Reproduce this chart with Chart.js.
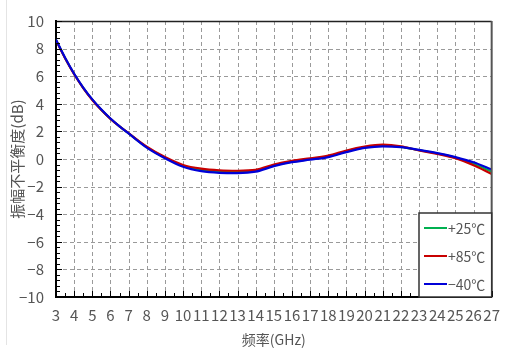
<!DOCTYPE html>
<html>
<head>
<meta charset="utf-8">
<title>振幅不平衡度</title>
<script src="https://cdn.jsdelivr.net/npm/chart.js@4/dist/chart.umd.min.js"></script>
<style>
  html, body { margin: 0; padding: 0; background: #fff; }
  #wrap { width: 509px; height: 348px; }
</style>
</head>
<body>
<div id="wrap"><canvas id="c" width="509" height="348"></canvas></div>
<script>
// Frequency points (GHz)
const freqGHz = [3, 3.5, 4, 4.5, 5, 5.5, 6, 6.5, 7, 8, 9, 10, 11, 12, 13, 14, 15, 16, 17, 18, 19, 20, 21, 22, 23, 24, 25, 26, 27];

// Amplitude imbalance (dB) at each temperature
const imbalance25 = [8.62, 7.32, 6.16, 5.16, 4.30, 3.56, 2.92, 2.36, 1.86, 0.86, 0.10, -0.50, -0.80, -0.92, -0.94, -0.86, -0.46, -0.19, 0.00, 0.19, 0.56, 0.84, 0.97, 0.88, 0.64, 0.40, 0.10, -0.35, -0.92];
const imbalance85 = [8.60, 7.30, 6.14, 5.14, 4.28, 3.55, 2.91, 2.36, 1.87, 0.89, 0.14, -0.43, -0.70, -0.82, -0.85, -0.79, -0.40, -0.13, 0.05, 0.24, 0.62, 0.90, 1.04, 0.92, 0.62, 0.37, 0.06, -0.45, -1.08];
const imbalanceM40 = [8.64, 7.34, 6.18, 5.18, 4.32, 3.58, 2.93, 2.36, 1.85, 0.83, 0.06, -0.56, -0.88, -1.00, -1.02, -0.92, -0.52, -0.23, -0.05, 0.14, 0.50, 0.80, 0.92, 0.86, 0.66, 0.43, 0.14, -0.24, -0.76];

const seriesLabels = ['+25℃', '+85℃', '−40℃'];
const seriesColors = ['#00b050', '#c80000', '#0000d8'];

// Axis ranges and tick labels
const xMin = 3, xMax = 27, xStep = 1;
const yMin = -10, yMax = 10, yStep = 2;
const xTitle = '频率(GHz)';
const yTitle = '振幅不平衡度(dB)';

const FONT = "'Noto Sans CJK SC', 'Noto Sans', sans-serif";
const TEXT_COLOR = '#555';

const toPoints = vals => freqGHz.map((f, i) => ({ x: f, y: vals[i] }));

// Dashed grid, frame, inner tick marks and the boxed legend inside the plot area
const framePlugin = {
  id: 'frame',
  beforeDraw(chart) {
    const { ctx } = chart;
    ctx.save();
    ctx.fillStyle = '#fff';
    ctx.fillRect(0, 0, chart.width, chart.height);
    ctx.strokeStyle = '#e4e4e4';
    ctx.lineWidth = 1;
    ctx.beginPath();
    ctx.moveTo(6.5, 0);
    ctx.lineTo(6.5, 345);
    ctx.stroke();
    ctx.restore();
  },
  beforeDatasetsDraw(chart) {
    const { ctx, chartArea: a, scales: { x, y } } = chart;
    ctx.save();
    ctx.strokeStyle = '#9a9a9a';
    ctx.lineWidth = 1;
    ctx.setLineDash([4, 3]);
    x.ticks.forEach(t => {
      if (t.value <= xMin || t.value >= xMax) return;
      const px = Math.round(x.getPixelForValue(t.value)) + 0.5;
      ctx.beginPath();
      ctx.moveTo(px, a.top);
      ctx.lineTo(px, a.bottom);
      ctx.stroke();
    });
    y.ticks.forEach(t => {
      if (t.value <= yMin || t.value >= yMax) return;
      const py = Math.round(y.getPixelForValue(t.value)) + 0.5;
      ctx.beginPath();
      ctx.moveTo(a.left, py);
      ctx.lineTo(a.right, py);
      ctx.stroke();
    });
    ctx.restore();
  },
  afterDatasetsDraw(chart) {
    const { ctx, chartArea: a, scales: { x, y } } = chart;
    ctx.save();
    // top and right edges
    ctx.strokeStyle = '#222';
    ctx.lineWidth = 1.5;
    ctx.beginPath();
    ctx.moveTo(a.left, a.top + 0.5);
    ctx.lineTo(a.right, a.top + 0.5);
    ctx.stroke();
    ctx.strokeStyle = '#555';
    ctx.lineWidth = 2;
    ctx.beginPath();
    ctx.moveTo(a.right, a.top);
    ctx.lineTo(a.right, a.bottom);
    ctx.stroke();

    // inner ticks
    ctx.strokeStyle = '#000';
    ctx.lineWidth = 1;
    for (let v = yMin; v <= yMax + 1e-9; v += 0.4) {
      const py = Math.round(y.getPixelForValue(v)) + 0.5;
      const major = Math.abs(v / yStep - Math.round(v / yStep)) < 1e-6;
      ctx.beginPath();
      ctx.moveTo(a.left, py);
      ctx.lineTo(a.left + (major ? 6 : 4), py);
      ctx.stroke();
    }
    for (let v = xMin; v <= xMax + 1e-9; v += 0.5) {
      const px = Math.round(x.getPixelForValue(v)) + 0.5;
      const major = Math.abs(v - Math.round(v)) < 1e-6;
      ctx.beginPath();
      ctx.moveTo(px, a.bottom);
      ctx.lineTo(px, a.bottom - (major ? 6 : 4));
      ctx.stroke();
    }

    // legend box
    const bx = 419, by = 213, bw = a.right - 419, bh = a.bottom - 213;
    ctx.fillStyle = '#fff';
    ctx.fillRect(bx, by, bw, bh);
    ctx.strokeStyle = '#333';
    ctx.lineWidth = 1.5;
    ctx.strokeRect(bx, by, bw, bh);
    ctx.font = '14px ' + FONT;
    ctx.textBaseline = 'middle';
    ctx.textAlign = 'left';
    seriesLabels.forEach((lab, i) => {
      const cy = 228 + i * 28;
      ctx.strokeStyle = seriesColors[i];
      ctx.lineWidth = 2;
      ctx.beginPath();
      ctx.moveTo(424, cy);
      ctx.lineTo(447, cy);
      ctx.stroke();
      ctx.fillStyle = TEXT_COLOR;
      ctx.fillText(lab, 448, cy + 1);
    });
    ctx.restore();
  }
};

new Chart(document.getElementById('c'), {
  type: 'line',
  data: {
    datasets: [
      { label: seriesLabels[0], data: toPoints(imbalance25), borderColor: seriesColors[0], order: 2 },
      { label: seriesLabels[1], data: toPoints(imbalance85), borderColor: seriesColors[1], order: 1 },
      { label: seriesLabels[2], data: toPoints(imbalanceM40), borderColor: seriesColors[2], order: 0 }
    ]
  },
  options: {
    responsive: false,
    animation: false,
    layout: { padding: { top: 15, right: 15, left: 0, bottom: 0 } },
    plugins: { legend: { display: false }, tooltip: { enabled: false } },
    elements: {
      point: { radius: 0 },
      line: { borderWidth: 2.2, cubicInterpolationMode: 'monotone', fill: false }
    },
    scales: {
      x: {
        type: 'linear', min: xMin, max: xMax,
        afterFit: s => { s.height = 51; },
        ticks: {
          stepSize: xStep, autoSkip: false, maxRotation: 0, padding: 9,
          color: TEXT_COLOR, font: { family: FONT, size: 15 }
        },
        grid: { display: false, drawTicks: false },
        border: { display: true, color: '#000', width: 2 },
        title: {
          display: true, text: xTitle, color: TEXT_COLOR,
          font: { family: FONT, size: 14 }, padding: { top: 5, bottom: 0 }
        }
      },
      y: {
        type: 'linear', min: yMin, max: yMax,
        afterFit: s => { s.width = 56; },
        ticks: {
          stepSize: yStep, padding: 12, color: TEXT_COLOR,
          font: { family: FONT, size: 15 },
          callback: v => String(v).replace('-', '−')
        },
        grid: { display: false, drawTicks: false },
        border: { display: true, color: '#000', width: 2 },
        title: {
          display: true, text: yTitle, color: TEXT_COLOR,
          font: { family: FONT, size: 15 }, padding: { top: 8, bottom: 0 }
        }
      }
    }
  },
  plugins: [framePlugin]
});
</script>
</body>
</html>
